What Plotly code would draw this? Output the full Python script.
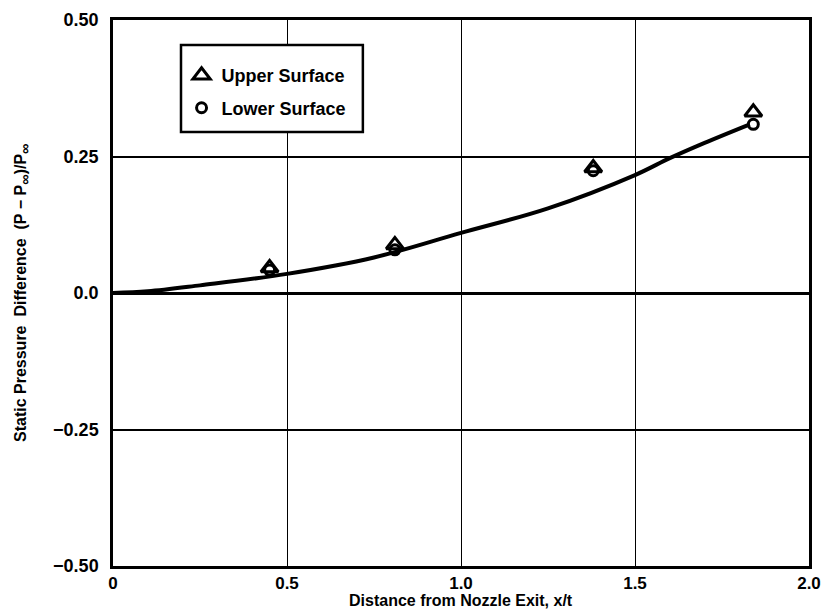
import plotly.graph_objects as go

# Data
upper_x = [0.45, 0.81, 1.38, 1.84]
upper_y = [0.046, 0.088, 0.229, 0.331]
lower_x = [0.45, 0.81, 1.38, 1.84]
lower_y = [0.042, 0.079, 0.224, 0.309]

curve_x = [0.0, 0.1, 0.25, 0.5, 0.75, 1.0, 1.25, 1.5, 1.6, 1.7, 1.83]
curve_y = [0.0, 0.003, 0.014, 0.035, 0.065, 0.11, 0.155, 0.216, 0.247, 0.275, 0.309]

x_ticks = [0, 0.5, 1.0, 1.5, 2.0]
x_ticktext = ["0", "0.5", "1.0", "1.5", "2.0"]
y_ticks = [0.5, 0.25, 0.0, -0.25, -0.5]
y_ticktext = ["0.50", "0.25", "0.0", "\u22120.25", "\u22120.50"]

x_title = "Distance from Nozzle Exit, x/t"
y_title = ("Static Pressure \u00a0Difference \u00a0(P \u2212 P<span style='font-size:21px'><sub>\u221e</sub></span>)"
           "/P<span style='font-size:21px'><sub>\u221e</sub></span>")

FONT = "Liberation Sans, Arial, sans-serif"

fig = go.Figure()
fig.add_trace(go.Scatter(x=curve_x, y=curve_y, mode="lines", line=dict(color="black", width=4, shape="spline"),
                         showlegend=False, hoverinfo="skip"))
fig.add_trace(go.Scatter(x=upper_x, y=upper_y, mode="markers", name="Upper Surface", legendgroup="u",
                         marker=dict(symbol="triangle-up-open", size=15, color="black", line=dict(width=3, color="black"))))
fig.add_trace(go.Scatter(x=lower_x, y=lower_y, mode="markers", name="Lower Surface", legendgroup="l",
                         marker=dict(symbol="circle-open", size=10, color="black", line=dict(width=3, color="black"))))

# legend frame
fig.add_shape(type="rect", xref="paper", yref="paper", x0=0.0977, x1=0.359, y0=0.795, y1=0.954,
              line=dict(color="black", width=2.5), fillcolor="white", layer="above")

fig.add_annotation(text=x_title, xref="paper", yref="paper", x=0.5, y=0, yshift=-34, showarrow=False,
                   xanchor="center", yanchor="middle", font=dict(size=16, family=FONT, weight="bold"))
fig.add_annotation(text=y_title, xref="paper", yref="paper", x=0, xshift=-91, y=0.5, textangle=-90,
                   showarrow=False, xanchor="center", yanchor="middle",
                   font=dict(size=16, family=FONT, weight="bold"))

fig.update_layout(
    width=835, height=609,
    margin=dict(l=113, r=26, t=20, b=43),
    paper_bgcolor="white", plot_bgcolor="white",
    font=dict(family=FONT, color="black", size=16, weight="bold"),
    legend=dict(x=0.0985, y=0.932, xanchor="left", yanchor="top", borderwidth=0,
                bgcolor="rgba(0,0,0,0)", font=dict(size=18, family=FONT, weight="bold"), tracegroupgap=6),
    xaxis=dict(range=[0, 2.0], tickvals=x_ticks, ticktext=x_ticktext, showgrid=True, gridcolor="black",
               gridwidth=1.2, showline=True, linecolor="black", linewidth=2.5, mirror=True, ticks="",
               zeroline=False, automargin=False, ticklabelstandoff=0,
               tickfont=dict(size=17, family=FONT, weight="bold")),
    yaxis=dict(range=[-0.5, 0.5], tickvals=y_ticks, ticktext=y_ticktext, showgrid=True, gridcolor="black",
               gridwidth=1.8, showline=True, linecolor="black", linewidth=2.5, mirror=True, ticks="",
               zeroline=True, zerolinecolor="black", zerolinewidth=2.5, automargin=False, ticklabelstandoff=8,
               tickfont=dict(size=18, family=FONT, weight="bold")),
)

fig.write_html("out.html")
